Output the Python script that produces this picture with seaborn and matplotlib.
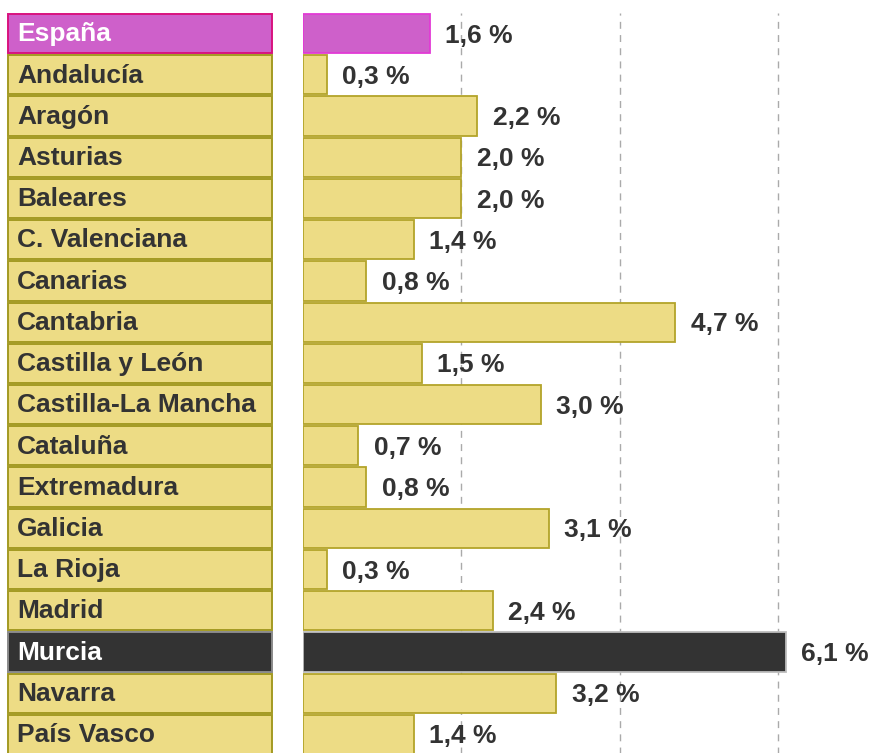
import matplotlib
matplotlib.use("Agg")
import matplotlib.pyplot as plt
import seaborn as sns
import pandas as pd

regions = ["España", "Andalucía", "Aragón", "Asturias", "Baleares", "C. Valenciana",
           "Canarias", "Cantabria", "Castilla y León", "Castilla-La Mancha", "Cataluña",
           "Extremadura", "Galicia", "La Rioja", "Madrid", "Murcia", "Navarra", "País Vasco"]
values = [1.6, 0.3, 2.2, 2.0, 2.0, 1.4, 0.8, 4.7, 1.5, 3.0, 0.7, 0.8, 3.1, 0.3, 2.4, 6.1, 3.2, 1.4]
roles = ["total"] + ["base"] * 14 + ["focus"] + ["base"] * 2

fill = {"total": "#CE60CA", "base": "#EDDC85", "focus": "#333333"}
box_edge = {"total": "#D8127E", "base": "#A39A22", "focus": "#8A8A8A"}
bar_edge = {"total": "#E23AD6", "base": "#B3A42A", "focus": "#BDBDBD"}
text_col = {"total": "white", "base": "#333333", "focus": "white"}

df = pd.DataFrame({"region": regions, "value": values, "role": roles, "one": 1.0})
pal = {r: fill[k] for r, k in zip(regions, roles)}

sns.set_theme(style="white")
plt.rcParams["font.family"] = ["Liberation Sans", "DejaVu Sans"]

W, H = 874, 753
fig = plt.figure(figsize=(W / 100, H / 100), dpi=100)
fig.patch.set_facecolor("white")
y0 = (H - 755) / H
hh = 742 / H
ax_l = fig.add_axes([8 / W, y0, 264 / W, hh])
ax_r = fig.add_axes([303 / W, y0, 571 / W, hh])

# Label boxes
sns.barplot(data=df, x="one", y="region", hue="region", palette=pal, legend=False,
            ax=ax_l, width=0.95, orient="h", saturation=1)
for p, k in zip(ax_l.patches, roles):
    p.set_edgecolor(box_edge[k])
    p.set_linewidth(1.4)
    p.set_clip_on(False)
ax_l.set_xlim(0, 1)
for i, (name, k) in enumerate(zip(regions, roles)):
    ax_l.annotate(name, xy=(9 / 264, i), xytext=(0, -0.5), textcoords="offset points",
                  va="center", ha="left", fontsize=19,
                  fontweight="bold", color=text_col[k])
ax_l.axis("off")

# Value bars
sns.barplot(data=df, x="value", y="region", hue="region", palette=pal, legend=False,
            ax=ax_r, width=0.95, orient="h", saturation=1)
for p, k in zip(ax_r.patches, roles):
    p.set_edgecolor(bar_edge[k])
    p.set_linewidth(1.3)
    p.set_zorder(3)
ax_r.set_xlim(0, 571 / 79.2)
ax_r.set_xticks([2, 4, 6])
ax_r.grid(axis="x", linestyle=(0, (5, 4.5)), color="#AAAAAA", linewidth=1.0)
ax_r.set_axisbelow(True)
ax_r.tick_params(left=False, bottom=False, labelleft=False, labelbottom=False)
ax_r.set_xlabel("")
ax_r.set_ylabel("")
for s in ax_r.spines.values():
    s.set_visible(False)
for i, v in enumerate(values):
    ax_r.annotate(f"{v:.1f} %".replace(".", ","), xy=(v, i), xytext=(11, -1.5),
                  textcoords="offset points", va="center", ha="left",
                  fontsize=19, fontweight="bold", color="#333333", zorder=5)

fig.savefig("out.png", dpi=100, facecolor="white")
